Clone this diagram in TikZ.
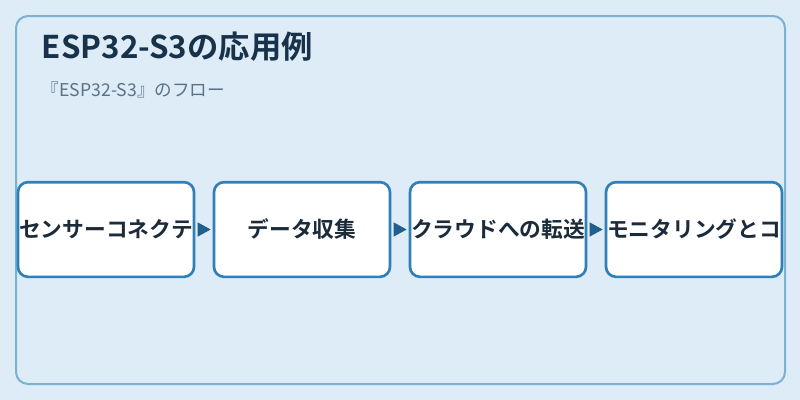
\documentclass[tikz,border=0pt]{standalone}
\usepackage{fontspec}
\setmainfont{Noto Sans CJK JP}[BoldFont={Noto Sans CJK JP Bold}]
\usetikzlibrary{arrows.meta,positioning}

\definecolor{bgcol}{HTML}{DDECF7}
\definecolor{panelline}{HTML}{7BB1D3}
\definecolor{boxline}{HTML}{2F80B8}
\definecolor{arrowcol}{HTML}{215F8C}
\definecolor{titlecol}{HTML}{17324A}
\definecolor{subcol}{HTML}{5B7185}
\definecolor{textcol}{HTML}{1B2B3A}

\begin{document}
\begin{tikzpicture}[x=0.75pt,y=-0.75pt,->,>={Triangle[length=9.75pt,width=10.5pt]},thick]
\tikzstyle{stepbox}=[fill=white,draw=boxline,line width=2pt,rounded corners=7.5pt,minimum width=132pt,minimum height=71pt,inner sep=0pt,text=textcol,font=\bfseries\fontsize{16.3}{19}\selectfont]
\tikzstyle{flow}=[draw=arrowcol,fill=arrowcol,shorten <=2.25pt,shorten >=1.5pt]

\useasboundingbox (0,0) rectangle (800,400);
\fill[bgcol] (0,0) rectangle (800,400);
\draw[-,draw=panelline,line width=1.5pt,rounded corners=9pt] (16,16) rectangle (785,384);

\node[anchor=west,text=titlecol,font=\bfseries\fontsize{23.5}{28}\selectfont] (T) at (37,47) {ESP32-S3の応用例};
\node[anchor=west,text=subcol,font=\fontsize{13.2}{16}\selectfont] (S) at (37,90) {『ESP32-S3』のフロー};

\node[stepbox]		(A) at (106,229.5) {センサーコネクテ};
\node[stepbox]		(B) [right of=A,node distance=147pt] {データ収集};
\node[stepbox]		(C) [right of=B,node distance=147pt] {クラウドへの転送};
\node[stepbox]		(D) [right of=C,node distance=147pt] {モニタリングとコ};

\path
(A) edge[flow] (B)
(B) edge[flow] (C)
(C) edge[flow] (D)
;
\end{tikzpicture}
\end{document}
